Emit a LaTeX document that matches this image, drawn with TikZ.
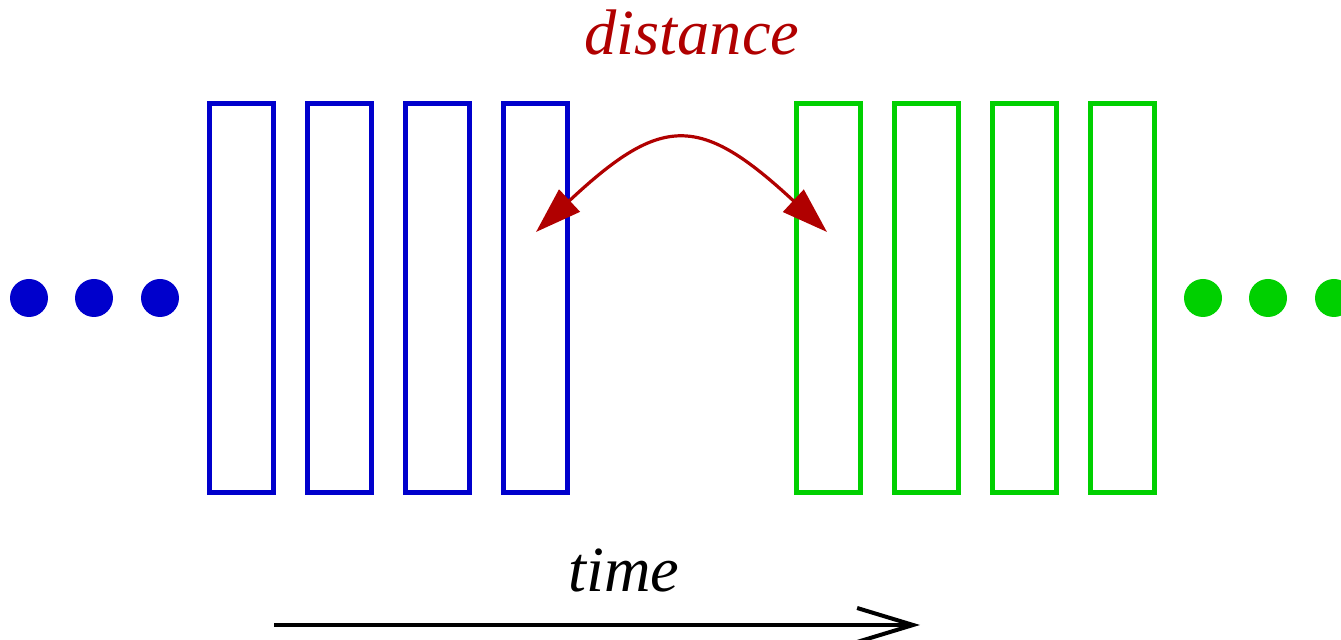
\documentclass[tikz,border=0pt]{standalone}
\usepackage{fontspec}
\setmainfont{Liberation Serif}
\usetikzlibrary{arrows.meta}
\definecolor{myblue}{HTML}{0000CC}
\definecolor{mygreen}{HTML}{00D000}
\definecolor{myred}{HTML}{B00000}
\begin{document}
\begin{tikzpicture}[x=0.5pt,y=-0.5pt,
  slot/.style={draw, line width=2.5pt, minimum width=32pt, minimum height=194.5pt, inner sep=0pt},
  bslot/.style={slot, draw=myblue},
  gslot/.style={slot, draw=mygreen},
  dot/.style={circle, minimum size=19pt, inner sep=0pt},
  lbl/.style={font=\fontsize{32.2}{36}\selectfont\itshape, inner sep=0pt, anchor=base}]
\useasboundingbox (0,0) rectangle (1341,640);
\foreach \x [count=\i] in {241.5,339.5,437.5,535.5} \node[bslot] (b\i) at (\x,298) {};
\foreach \x [count=\i] in {828,926,1024,1122} \node[gslot] (g\i) at (\x,298) {};
\foreach \x [count=\i] in {29,94,160} \node[dot, fill=myblue] (bd\i) at (\x,298) {};
\foreach \x [count=\i] in {1203,1268,1334} \node[dot, fill=mygreen] (gd\i) at (\x,298) {};
\node[lbl, text=myred] (dist) at (692,55) {distance};
\node[lbl] (time) at (624,592) {time};
\coordinate (dl) at (536,232);
\coordinate (dr) at (827,232);
\draw[myred, line width=1.6pt, {Triangle[length=23pt,width=15pt]}-{Triangle[length=23pt,width=15pt]}]
  (dl) .. controls (662,114) and (700,114) .. (dr);
\coordinate (ts) at (274,625);
\coordinate (te) at (920,625);
\draw[line width=2pt, -{Straight Barb[length=28pt,width=17pt,line width=2pt]}] (ts) -- (te);
\end{tikzpicture}
\end{document}
